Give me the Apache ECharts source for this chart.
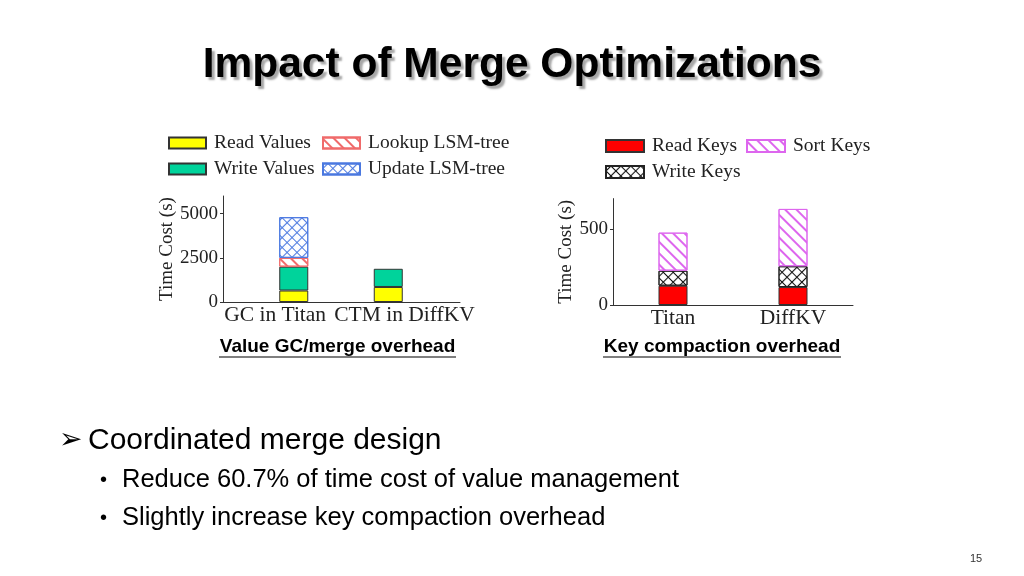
<!DOCTYPE html>
<html>
<head>
<meta charset="utf-8">
<script src="https://cdn.jsdelivr.net/npm/echarts@6/dist/echarts.min.js"></script>
<style>
html,body{margin:0;padding:0;background:#fff;}
#chart{width:1024px;height:576px;}
</style>
</head>
<body>
<div id="chart"></div>
<script>
// ---- data ----
const leftCategories = ['GC in Titan', 'CTM in DiffKV'];
const readValues = [650, 850];
const writeValues = [1350, 1030];
const lookupLSM = [500, null];
const updateLSM = [2300, null];
const leftYTicks = [0, 2500, 5000];

const rightCategories = ['Titan', 'DiffKV'];
const readKeys = [127, 118];
const writeKeys = [99, 137];
const sortKeys = [250, 377];
const rightYTicks = [0, 500];

const titleText = 'Impact of Merge Optimizations';
const caption1 = 'Value GC/merge overhead';
const caption2 = 'Key compaction overhead';
const bullet1 = 'Coordinated merge design';
const subBullets = ['Reduce 60.7% of time cost of value management', 'Slightly increase key compaction overhead'];
const pageNumber = '15';

// ---- styles ----
const SERIF = '"Liberation Serif", "DejaVu Serif", serif';
const SANS = '"Liberation Sans", Arial, sans-serif';

function stripes(color) {
  return { symbol: 'rect', symbolSize: 1, dashArrayX: [1, 0], dashArrayY: [1.3, 5.5], rotation: Math.PI / 4, color: color };
}
function lattice(color) {
  return { symbol: 'path://M0,4.2L10,4.2L10,5.8L0,5.8Z M4.2,0L5.8,0L5.8,10L4.2,10Z', symbolSize: 1,
           dashArrayX: [7, 0], dashArrayY: [7, 0], rotation: Math.PI / 4, color: color };
}

const chart = echarts.init(document.getElementById('chart'));

const axisLineStyle = { color: '#333', width: 1 };
const legendText = { fontFamily: SERIF, fontSize: 19.5, color: '#222', padding: [0, 0, 0, 3] };

const option = {
  animation: false,
  backgroundColor: '#fff',
  aria: { enabled: false },
  grid: [
    // left chart: visible axes frame
    { left: 223, top: 196, width: 237, height: 106 },
    // left chart: bar area
    { left: 246.5, top: 196, width: 189, height: 106 },
    // right chart
    { left: 613, top: 198.6, width: 240, height: 106.4 }
  ],
  xAxis: [
    {
      gridIndex: 0, type: 'value', min: 0.25, max: 2.75,
      axisLine: { show: true, onZero: false, lineStyle: axisLineStyle },
      axisTick: { show: false },
      splitLine: { show: false },
      axisLabel: {
        customValues: [0.8, 2.165],
        formatter: (v) => leftCategories[Math.round(v) - 1],
        fontFamily: SERIF, fontSize: 21.5, color: '#222', margin: 2
      }
    },
    {
      gridIndex: 1, type: 'category', data: leftCategories, show: false
    },
    {
      gridIndex: 2, type: 'category', data: rightCategories,
      axisLine: { show: true, lineStyle: axisLineStyle },
      axisTick: { show: false },
      axisLabel: { fontFamily: SERIF, fontSize: 21.5, color: '#222', margin: 2 }
    }
  ],
  yAxis: [
    {
      gridIndex: 0, type: 'value', min: 0, max: 6000,
      name: 'Time Cost (s)', nameLocation: 'middle', nameGap: 44,
      nameTextStyle: { fontFamily: SERIF, fontSize: 19, color: '#222' },
      axisLine: { show: true, lineStyle: axisLineStyle },
      axisTick: { show: true, length: 3, customValues: leftYTicks, lineStyle: axisLineStyle },
      axisLabel: { customValues: leftYTicks, formatter: (v) => String(v), fontFamily: SERIF, fontSize: 19, color: '#222', margin: 5 },
      splitLine: { show: false }
    },
    {
      gridIndex: 1, type: 'value', min: 0, max: 6000, show: false, splitLine: { show: false }
    },
    {
      gridIndex: 2, type: 'value', min: 0, max: 700,
      name: 'Time Cost (s)', nameLocation: 'middle', nameGap: 34,
      nameTextStyle: { fontFamily: SERIF, fontSize: 19, color: '#222' },
      axisLine: { show: true, lineStyle: axisLineStyle },
      axisTick: { show: true, length: 3, customValues: rightYTicks, lineStyle: axisLineStyle },
      axisLabel: { customValues: rightYTicks, formatter: (v) => String(v), fontFamily: SERIF, fontSize: 19, color: '#222', margin: 5 },
      splitLine: { show: false }
    }
  ],
  legend: [
    { orient: 'vertical', left: 168, top: 133, padding: 0, icon: 'rect', itemWidth: 37, itemHeight: 11, itemGap: 6,
      data: ['Read Values', 'Write Values'], textStyle: legendText },
    { orient: 'vertical', left: 322, top: 133, padding: 0, icon: 'rect', itemWidth: 37, itemHeight: 11, itemGap: 6,
      data: ['Lookup LSM-tree', 'Update LSM-tree'], textStyle: legendText },
    { orient: 'vertical', left: 605, top: 136, padding: 0, icon: 'rect', itemWidth: 38, itemHeight: 12, itemGap: 6,
      data: ['Read Keys', 'Write Keys'], textStyle: legendText },
    { orient: 'vertical', left: 746, top: 136, padding: 0, icon: 'rect', itemWidth: 38, itemHeight: 12, itemGap: 6,
      data: ['Sort Keys'], textStyle: legendText }
  ],
  series: [
    { name: 'Read Values', type: 'bar', xAxisIndex: 1, yAxisIndex: 1, stack: 'L', barWidth: 29,
      data: readValues, itemStyle: { color: '#ffff00', borderColor: '#333', borderWidth: 1 } },
    { name: 'Write Values', type: 'bar', xAxisIndex: 1, yAxisIndex: 1, stack: 'L', barWidth: 29,
      data: writeValues, itemStyle: { color: '#00d39b', borderColor: '#333', borderWidth: 1 } },
    { name: 'Lookup LSM-tree', type: 'bar', xAxisIndex: 1, yAxisIndex: 1, stack: 'L', barWidth: 29,
      data: lookupLSM, itemStyle: { color: '#fff', borderColor: '#f06a6a', borderWidth: 1, decal: stripes('#f06a6a') } },
    { name: 'Update LSM-tree', type: 'bar', xAxisIndex: 1, yAxisIndex: 1, stack: 'L', barWidth: 29,
      data: updateLSM, itemStyle: { color: '#fff', borderColor: '#4a78e0', borderWidth: 1, decal: lattice('#4a78e0') } },

    { name: 'Read Keys', type: 'bar', xAxisIndex: 2, yAxisIndex: 2, stack: 'R', barWidth: 29,
      data: readKeys, itemStyle: { color: '#ff0000', borderColor: '#333', borderWidth: 1 } },
    { name: 'Write Keys', type: 'bar', xAxisIndex: 2, yAxisIndex: 2, stack: 'R', barWidth: 29,
      data: writeKeys, itemStyle: { color: '#fff', borderColor: '#222', borderWidth: 1, decal: lattice('#111') } },
    { name: 'Sort Keys', type: 'bar', xAxisIndex: 2, yAxisIndex: 2, stack: 'R', barWidth: 29,
      data: sortKeys, itemStyle: { color: '#fff', borderColor: '#dd66ee', borderWidth: 1, decal: stripes('#dd66ee') } }
  ],
  graphic: [
    { type: 'text', left: 'center', top: 44, z: 10,
      style: { text: titleText, font: 'bold 42.5px ' + SANS, fill: '#000',
               textShadowColor: 'rgba(0,0,0,0.35)', textShadowOffsetX: 3, textShadowOffsetY: 3, textShadowBlur: 2 } },
    { type: 'text', x: 337.5, y: 347, style: { text: caption1, font: 'bold 19px ' + SANS, fill: '#000', align: 'center', verticalAlign: 'middle' } },
    { type: 'line', shape: { x1: 219, y1: 357, x2: 456, y2: 357 }, style: { stroke: '#000', lineWidth: 1.2 } },
    { type: 'text', x: 722, y: 347, style: { text: caption2, font: 'bold 19px ' + SANS, fill: '#000', align: 'center', verticalAlign: 'middle' } },
    { type: 'line', shape: { x1: 603, y1: 357, x2: 841, y2: 357 }, style: { stroke: '#000', lineWidth: 1.2 } },
    { type: 'text', x: 59, y: 441, style: { text: '\u27A2', font: '28px "DejaVu Sans", sans-serif', fill: '#000', verticalAlign: 'middle' } },
    { type: 'text', x: 88, y: 441, style: { text: bullet1, font: '30px ' + SANS, fill: '#000', verticalAlign: 'middle' } },
    { type: 'text', x: 100, y: 480, style: { text: '\u2022', font: '20px ' + SANS, fill: '#000', verticalAlign: 'middle' } },
    { type: 'text', x: 122, y: 480, style: { text: subBullets[0], font: '25.5px ' + SANS, fill: '#000', verticalAlign: 'middle' } },
    { type: 'text', x: 100, y: 518, style: { text: '\u2022', font: '20px ' + SANS, fill: '#000', verticalAlign: 'middle' } },
    { type: 'text', x: 122, y: 518, style: { text: subBullets[1], font: '25.5px ' + SANS, fill: '#000', verticalAlign: 'middle' } },
    { type: 'text', x: 976, y: 559, style: { text: pageNumber, font: '11px ' + SANS, fill: '#333', align: 'center', verticalAlign: 'middle' } }
  ]
};
chart.setOption(option);
</script>
</body>
</html>
